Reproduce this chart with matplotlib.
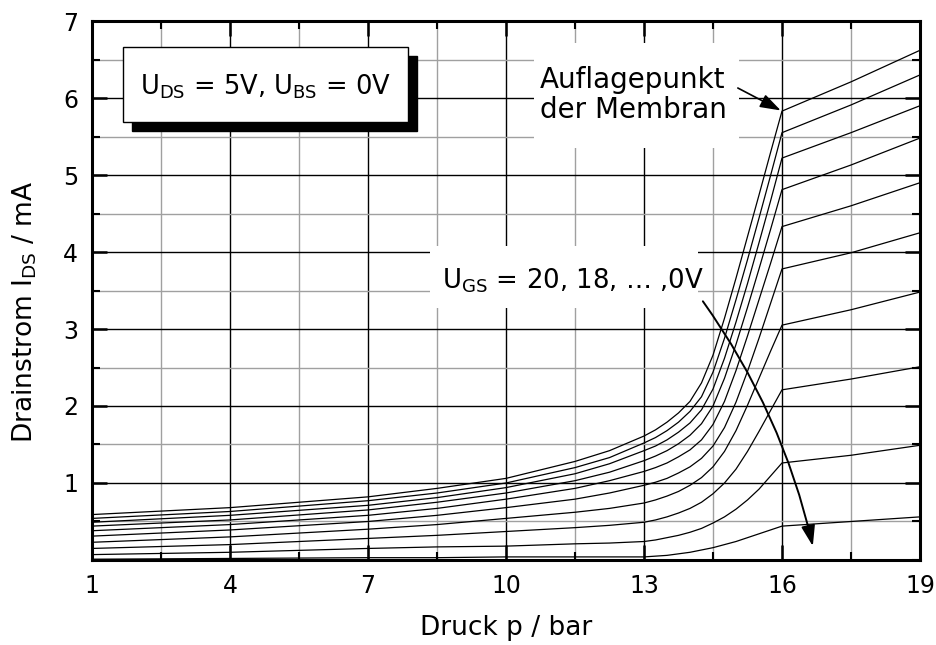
import matplotlib.pyplot as plt
from matplotlib.patches import Rectangle, FancyArrowPatch
from matplotlib.ticker import FixedLocator, MultipleLocator

plt.rcParams['font.family'] = ['DejaVu Sans']
plt.rcParams['mathtext.fontset'] = 'dejavusans'

# pressure steps (bar), shared by all curves
pressure = [1, 4, 7, 8.5, 10, 11.5, 12.25, 13, 13.25, 13.5, 13.75, 14, 14.25,
            14.5, 14.75, 15, 15.25, 15.5, 15.75, 16, 17.5, 19]

# drain current (mA), from highest to lowest gate voltage
ids_1 = [0.59, 0.68, 0.82, 0.93, 1.06, 1.28, 1.42, 1.61, 1.69, 1.79, 1.91, 2.06, 2.30,
         2.66, 3.14, 3.66, 4.20, 4.74, 5.29, 5.83, 6.21, 6.62]
ids_2 = [0.54, 0.63, 0.77, 0.87, 1.00, 1.20, 1.33, 1.52, 1.59, 1.68, 1.79, 1.93, 2.12,
         2.44, 2.88, 3.38, 3.90, 4.44, 4.99, 5.55, 5.91, 6.30]
ids_3 = [0.49, 0.58, 0.71, 0.81, 0.94, 1.12, 1.25, 1.42, 1.48, 1.56, 1.66, 1.78, 1.95,
         2.22, 2.62, 3.09, 3.59, 4.12, 4.66, 5.22, 5.55, 5.90]
ids_4 = [0.44, 0.52, 0.65, 0.75, 0.87, 1.03, 1.14, 1.29, 1.35, 1.42, 1.51, 1.62, 1.77,
         2.00, 2.36, 2.80, 3.28, 3.78, 4.29, 4.81, 5.13, 5.48]
ids_5 = [0.38, 0.46, 0.58, 0.67, 0.79, 0.93, 1.03, 1.15, 1.20, 1.26, 1.34, 1.43, 1.56,
         1.76, 2.06, 2.46, 2.91, 3.38, 3.85, 4.33, 4.60, 4.90]
ids_6 = [0.31, 0.39, 0.50, 0.58, 0.68, 0.79, 0.87, 0.97, 1.01, 1.06, 1.13, 1.21, 1.32,
         1.48, 1.72, 2.05, 2.45, 2.88, 3.33, 3.78, 3.99, 4.25]
ids_7 = [0.23, 0.30, 0.40, 0.46, 0.54, 0.62, 0.67, 0.74, 0.78, 0.83, 0.89, 0.97, 1.07,
         1.21, 1.41, 1.68, 2.01, 2.36, 2.71, 3.05, 3.25, 3.48]
ids_8 = [0.15, 0.20, 0.28, 0.32, 0.37, 0.42, 0.45, 0.49, 0.52, 0.56, 0.61, 0.67, 0.75,
         0.86, 1.00, 1.18, 1.41, 1.67, 1.94, 2.21, 2.35, 2.51]
ids_9 = [0.07, 0.10, 0.15, 0.17, 0.18, 0.21, 0.22, 0.24, 0.26, 0.29, 0.32, 0.36, 0.41,
         0.48, 0.56, 0.66, 0.78, 0.92, 1.09, 1.26, 1.36, 1.49]
ids_10 = [0.01, 0.02, 0.03, 0.03, 0.04, 0.04, 0.04, 0.04, 0.05, 0.06, 0.08, 0.10, 0.13,
          0.16, 0.20, 0.24, 0.29, 0.34, 0.39, 0.44, 0.50, 0.56]

x_ticks = [1, 4, 7, 10, 13, 16, 19]
x_minor = [2.5, 5.5, 8.5, 11.5, 14.5, 17.5]
y_ticks = [1, 2, 3, 4, 5, 6, 7]
contact_p = 16

fig = plt.figure(figsize=(9.36, 6.45), dpi=100)
ax = fig.add_axes([0.0983, 0.1318, 0.8846, 0.8356])

for ids in [ids_1, ids_2, ids_3, ids_4, ids_5, ids_6, ids_7, ids_8, ids_9, ids_10]:
    ax.plot(pressure, ids, color='black', lw=0.9, zorder=3)

ax.set_xlim(1, 19)
ax.set_ylim(0, 7)
ax.set_xticks(x_ticks)
ax.set_yticks(y_ticks)
ax.xaxis.set_minor_locator(FixedLocator(x_minor))
ax.yaxis.set_minor_locator(MultipleLocator(0.5))
ax.grid(which='major', color='black', lw=1.0, zorder=0)
ax.grid(which='minor', color='#a0a0a0', lw=1.0, zorder=0)
ax.set_axisbelow(True)
ax.tick_params(which='both', direction='in', top=True, right=True,
               labelsize=17, color='black')
ax.tick_params(which='major', length=11, width=1.8, pad=10)
ax.tick_params(which='minor', length=6, width=1.5)
for s in ax.spines.values():
    s.set_linewidth(2.2)

ax.set_xlabel('Druck p / bar', fontsize=19, labelpad=12)
ax.set_ylabel(r'Drainstrom I$_{\mathrm{DS}}$ / mA', fontsize=19)
ax.yaxis.set_label_coords(-0.064, 0.46)

# operating point box with drop shadow
ax.add_patch(Rectangle((0.048, 0.7965), 0.345, 0.139, transform=ax.transAxes,
                       facecolor='black', edgecolor='black', zorder=4))
ax.add_patch(Rectangle((0.0371, 0.8132), 0.345, 0.139, transform=ax.transAxes,
                       facecolor='white', edgecolor='black', lw=1.0, zorder=5))
ax.text(0.2096, 0.878, r'U$_{\mathrm{DS}}$ = 5V, U$_{\mathrm{BS}}$ = 0V',
        transform=ax.transAxes, ha='center', va='center', fontsize=18.5, zorder=6)

# membrane contact annotation
ax.add_patch(Rectangle((10.61, 5.35), 4.46, 1.36, facecolor='white',
                       edgecolor='none', zorder=2))
ax.text(10.74, 6.13, 'Auflagepunkt', fontsize=20, va='baseline', zorder=6)
ax.text(10.74, 5.74, 'der Membran', fontsize=20, va='baseline', zorder=6)
ax.add_patch(FancyArrowPatch((15.04, 6.13), (contact_p, ids_1[pressure.index(contact_p)]),
                             arrowstyle='-|>,head_length=0.9,head_width=0.3',
                             mutation_scale=14, color='black', lw=1.2,
                             shrinkA=0, shrinkB=1, zorder=6))

# gate voltage annotation
ax.add_patch(Rectangle((8.35, 3.27), 5.82, 0.81, facecolor='white',
                       edgecolor='none', zorder=2))
ax.text(8.6, 3.53, r'U$_{\mathrm{GS}}$ = 20, 18, … ,0V', fontsize=18.7,
        va='baseline', zorder=6)
ax.add_patch(FancyArrowPatch((14.28, 3.36), (16.67, 0.18),
                             connectionstyle='arc3,rad=-0.1',
                             arrowstyle='-|>,head_length=0.9,head_width=0.3',
                             mutation_scale=14, color='black', lw=1.4,
                             shrinkA=0, shrinkB=0, zorder=6))

fig.savefig('out.png', dpi=100)
